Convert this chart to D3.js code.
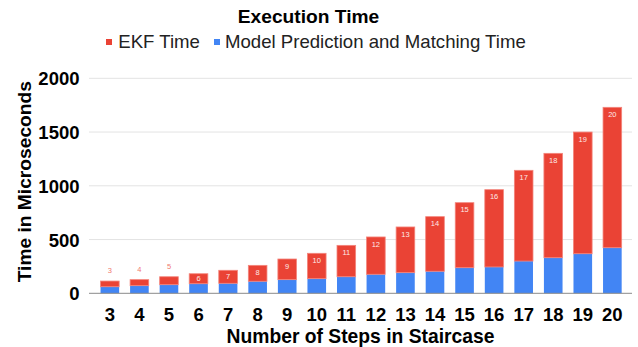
<!DOCTYPE html>
<html>
<head>
<meta charset="utf-8">
<script src="https://cdn.jsdelivr.net/npm/d3@7/dist/d3.min.js"></script>
<style>
  html, body { margin: 0; padding: 0; background: #fff; }
  svg { display: block; font-family: "Liberation Sans", Arial, sans-serif; }
</style>
</head>
<body>
<svg id="chart" width="638" height="347"></svg>
<script>
// Steps in the staircase (x categories)
const steps = [3, 4, 5, 6, 7, 8, 9, 10, 11, 12, 13, 14, 15, 16, 17, 18, 19, 20];
// Model prediction and matching time, microseconds (bottom segment)
const modelTime = [61, 71, 80, 89, 93, 112, 127, 136, 154, 177, 192, 205, 238, 245, 300, 331, 368, 424];
// EKF time, microseconds (stacked on top)
const ekfTime = [53, 56, 74, 93, 121, 148, 192, 236, 292, 347, 425, 508, 605, 719, 844, 971, 1132, 1306];
// Y axis ticks
const yTicks = [0, 500, 1000, 1500, 2000];

const seriesNames = ["EKF Time", "Model Prediction and Matching Time"];
const RED = "#ea4335", BLUE = "#4285f4";

const svg = d3.select("#chart");
const plotLeft = 89, plotRight = 632, plotTop = 78.3, plotBottom = 293.3;

const x = d3.scaleBand().domain(steps).range([plotLeft + 0.6, plotRight + 0.6])
  .paddingInner(0.37).paddingOuter(0.37);
const y = d3.scaleLinear().domain([0, 2000]).range([plotBottom, plotTop]);

// gridlines
svg.append("g").selectAll("line").data(yTicks.filter(d => d > 0)).join("line")
  .attr("x1", plotLeft).attr("x2", plotRight)
  .attr("y1", d => y(d)).attr("y2", d => y(d))
  .attr("stroke", "#e3e3e3").attr("stroke-width", 1);

// y tick labels
const yAxis = d3.axisLeft(y).tickValues(yTicks).tickFormat(d3.format("d"))
  .tickSize(0).tickPadding(0);
const gy = svg.append("g").attr("transform", `translate(${plotLeft - 9.5},0)`).call(yAxis);
gy.select(".domain").remove();
gy.selectAll("text").attr("font-size", 18.5).attr("font-weight", "bold")
  .attr("fill", "#000").attr("font-family", "Liberation Sans, Arial, sans-serif")
  .attr("dy", "0.36em");

// stacked data
const rows = steps.map((s, i) => ({ step: s, model: modelTime[i], ekf: ekfTime[i] }));

const bars = svg.append("g");
// bottom segment: model prediction and matching
bars.selectAll("rect.model").data(rows).join("rect").attr("class", "model")
  .attr("x", d => x(d.step)).attr("width", x.bandwidth())
  .attr("y", d => y(d.model)).attr("height", d => y(0) - y(d.model))
  .attr("fill", BLUE);
// top segment: EKF
bars.selectAll("rect.ekf").data(rows).join("rect").attr("class", "ekf")
  .attr("x", d => x(d.step)).attr("width", x.bandwidth())
  .attr("y", d => y(d.model + d.ekf)).attr("height", d => y(d.model) - y(d.model + d.ekf))
  .attr("fill", RED)
  .attr("stroke", "#f3857c").attr("stroke-width", 0.8);

// baseline
svg.append("line").attr("x1", plotLeft).attr("x2", plotRight)
  .attr("y1", y(0)).attr("y2", y(0)).attr("stroke", "#8a8a8a").attr("stroke-width", 1);

// step labels on the EKF segment
svg.append("g").selectAll("text").data(rows).join("text")
  .attr("x", d => x(d.step) + x.bandwidth() / 2)
  .attr("y", d => {
    const t = y(d.model + d.ekf), b = y(d.model);
    if (b - t < 9.5) return t - 10.7;
    return Math.min(t + 7, (t + b) / 2);
  })
  .attr("dy", "0.35em")
  .attr("text-anchor", "middle")
  .attr("font-size", 7.5)
  .attr("fill", d => (y(d.model) - y(d.model + d.ekf) < 9.5) ? "#f07a70" : "#fde9e7")
  .text(d => d.step);

// x tick labels
const xAxis = d3.axisBottom(x).tickSize(0).tickPadding(0);
const gx = svg.append("g").attr("transform", `translate(0,${plotBottom})`).call(xAxis);
gx.select(".domain").remove();
gx.selectAll("text").attr("font-size", 18.5).attr("font-weight", "bold")
  .attr("fill", "#000").attr("font-family", "Liberation Sans, Arial, sans-serif")
  .attr("dy", null).attr("y", 27.4);

// axis titles
svg.append("text").attr("x", 360.5).attr("y", 343)
  .attr("text-anchor", "middle").attr("font-size", 19.3).attr("font-weight", "bold")
  .attr("fill", "#000").text("Number of Steps in Staircase");
svg.append("text").attr("transform", "translate(31,181.7) rotate(-90)")
  .attr("text-anchor", "middle").attr("font-size", 19.2).attr("font-weight", "bold")
  .attr("fill", "#000").text("Time in Microseconds");

// chart title
svg.append("text").attr("x", 308.5).attr("y", 23.3)
  .attr("text-anchor", "middle").attr("font-size", 19.2).attr("font-weight", "bold")
  .attr("fill", "#000").text("Execution Time");

// legend
const legend = svg.append("g");
const legendItems = [
  { name: seriesNames[0], color: RED, sx: 106, tx: 118.3 },
  { name: seriesNames[1], color: BLUE, sx: 214, tx: 225 }
];
legend.selectAll("rect").data(legendItems).join("rect")
  .attr("x", d => d.sx).attr("y", 39).attr("width", 6).attr("height", 6)
  .attr("fill", d => d.color);
legend.selectAll("text").data(legendItems).join("text")
  .attr("x", d => d.tx).attr("y", 47.7)
  .attr("font-size", 18.6).attr("fill", "#222")
  .text(d => d.name);
</script>
</body>
</html>
